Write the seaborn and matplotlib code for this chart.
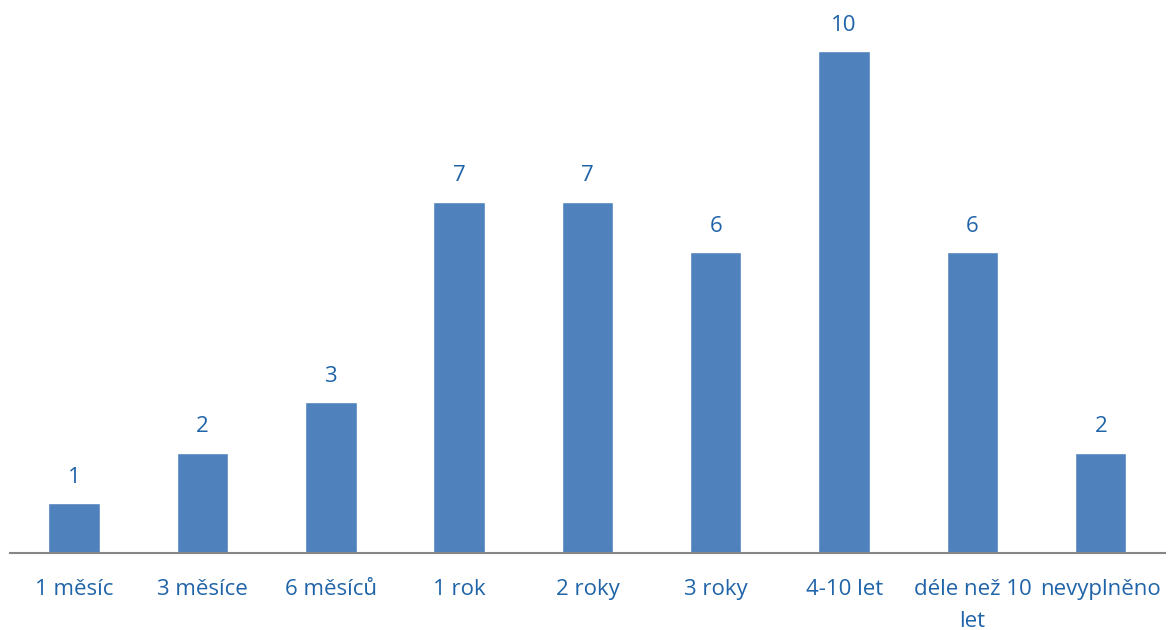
import matplotlib
matplotlib.use("Agg")
import matplotlib.pyplot as plt
import seaborn as sns
import pandas as pd

categories = ["1 měsíc", "3 měsíce", "6 měsíců", "1 rok", "2 roky", "3 roky",
              "4-10 let", "déle než 10\nlet", "nevyplněno"]
values = [1, 2, 3, 7, 7, 6, 10, 6, 2]

sns.set_theme(style="white")
plt.rcParams['font.family'] = ['Open Sans', 'DejaVu Sans']

bar_color = "#4F81BD"
text_color = "#1F64A8"

df = pd.DataFrame({"cat": categories, "val": values})

fig = plt.figure(figsize=(11.68, 6.30), dpi=100)
ax = fig.add_axes([10/1168, 77/630, 1155/1168, 552/630])
sns.barplot(data=df, x="cat", y="val", color=bar_color, width=0.40,
            saturation=1, ax=ax)
ax.set_ylim(0, 11)
ax.set_xlim(-0.5, len(categories) - 0.5)
ax.set_xlabel("")
ax.set_ylabel("")
ax.set_yticks([])
for s in ["top", "right", "left"]:
    ax.spines[s].set_visible(False)
ax.spines["bottom"].set_color("#868686")
ax.spines["bottom"].set_linewidth(1.5)
ax.tick_params(axis="x", length=0, pad=19, labelsize=16, labelcolor=text_color)
for lbl in ax.get_xticklabels():
    lbl.set_linespacing(1.65)
    lbl.set_verticalalignment("top")

for i, v in enumerate(values):
    ax.annotate(str(v), (i, v), xytext=(0, 11), textcoords="offset points",
                ha="center", va="bottom", fontsize=16, color=text_color)

fig.savefig("out.png", dpi=100)
